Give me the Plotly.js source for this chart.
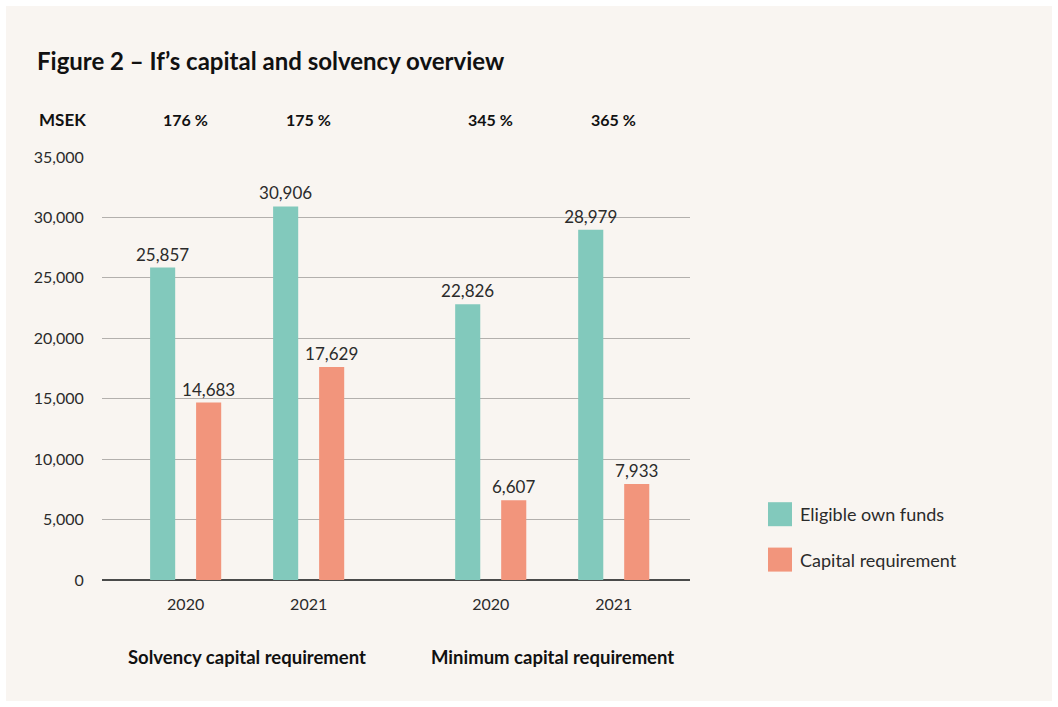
<!DOCTYPE html>
<html>
<head>
<meta charset="utf-8">
<script src="https://cdn.plot.ly/plotly-3.0.1.min.js"></script>
<style>
  html, body { margin: 0; padding: 0; background: #ffffff; }
  #chart { position: absolute; left: 6px; top: 6px; width: 1046px; height: 695px; }
</style>
</head>
<body>
<div id="chart"></div>
<script>
// Data (MSEK)
const groups = ["Solvency capital requirement", "Minimum capital requirement"];
const years = ["2020", "2021"];
const ratios = ["176 %", "175 %", "345 %", "365 %"];
const ownFunds = [25857, 30906, 22826, 28979];
const capitalReq = [14683, 17629, 6607, 7933];
const yTicks = [0, 5000, 10000, 15000, 20000, 25000, 30000, 35000];

const TEAL = "#82c9bc";
const CORAL = "#f2957c";
const INK = "#2b2b2b";
const FONT = "Lato, 'Open Sans', sans-serif";

// x positions: two groups of two years, wider gap between groups
const GROUP_STEP = 2.48;
const xPos = [];
groups.forEach((g, gi) => years.forEach((y, yi) => xPos.push(gi * GROUP_STEP + yi)));
const tickText = groups.flatMap(() => years);

const BAR_W = 0.204;

function barTrace(name, values, color, offset, group) {
  return {
    type: "bar",
    name,
    legendgroup: group,
    x: xPos,
    y: values,
    width: BAR_W,
    offset,
    marker: { color, line: { width: 0 } },
    text: values.map((v) => v.toLocaleString("en-US")),
    textposition: "outside",
    constraintext: "none",
    cliponaxis: false,
    textfont: { family: FONT, size: 17, color: INK },
    hoverinfo: "skip",
  };
}

const data = [
  barTrace("Eligible own funds", ownFunds, TEAL, -0.289, "funds"),
  barTrace("Capital requirement", capitalReq, CORAL, 0.085, "req"),
];

const annotations = [
  {
    text: "<b>MSEK</b>", xref: "paper", yref: "paper", x: -0.1105, y: 1.0898,
    xanchor: "left", yanchor: "middle", showarrow: false,
    font: { family: FONT, size: 17, color: "#111" },
  },
  ...ratios.map((r, i) => ({
    text: "<b>" + r + "</b>", xref: "x", yref: "paper", x: xPos[i], y: 1.0898,
    xanchor: "center", yanchor: "middle", showarrow: false,
    font: { family: FONT, size: 16, color: "#111" },
  })),
  ...groups.map((g, gi) => ({
    text: "<b>" + g + "</b>", xref: "x", yref: "paper",
    x: gi * GROUP_STEP + (years.length - 1) / 2, y: -0.182,
    xanchor: "center", yanchor: "middle", showarrow: false,
    font: { family: FONT, size: 18.5, color: "#111" },
  })),
];

const layout = {
  width: 1046,
  height: 695,
  margin: { l: 96, r: 362, t: 151, b: 121 },
  paper_bgcolor: "#f9f5f1",
  plot_bgcolor: "#f9f5f1",
  font: { family: FONT, color: INK },
  title: {
    text: "<b>Figure 2 – If’s capital and solvency overview</b>",
    xref: "container", yref: "container",
    x: 31 / 1046, y: 1 - 56 / 695, xanchor: "left", yanchor: "middle",
    font: { family: FONT, size: 24, color: "#111" },
  },
  barmode: "overlay",
  showlegend: true,
  legend: {
    xref: "container", yref: "container",
    x: 754 / 1046, y: 1 - 490 / 695, xanchor: "left", yanchor: "top",
    bgcolor: "rgba(0,0,0,0)",
    font: { family: FONT, size: 18, color: INK },
    traceorder: "grouped",
    tracegroupgap: 19,
  },
  xaxis: {
    range: [-0.68, 4.10],
    tickvals: xPos,
    ticktext: tickText,
    ticks: "outside",
    ticklen: 10,
    tickcolor: "rgba(0,0,0,0)",
    tickfont: { family: FONT, size: 16, color: INK },
    showgrid: false,
    zeroline: false,
    showline: false,
    fixedrange: true,
  },
  yaxis: {
    range: [0, 35000],
    tickvals: yTicks,
    tickformat: ",d",
    ticks: "outside",
    ticklen: 14,
    tickcolor: "rgba(0,0,0,0)",
    tickfont: { family: FONT, size: 16, color: INK },
    showgrid: true,
    gridcolor: "#b3b0ad",
    gridwidth: 1,
    zeroline: true,
    zerolinecolor: "#4a4a4a",
    zerolinewidth: 2,
    showline: false,
    fixedrange: true,
  },
  annotations,
};

Plotly.newPlot("chart", data, layout, {
  displayModeBar: false,
  staticPlot: true,
}).then((gd) => {
  // enlarge legend swatches to match the reference
  gd.querySelectorAll(".legend .legendpoints path").forEach((p) => {
    p.setAttribute("d", "M12,12H-12V-12H12Z");
    p.style.strokeWidth = "0";
  });
});
</script>
</body>
</html>
